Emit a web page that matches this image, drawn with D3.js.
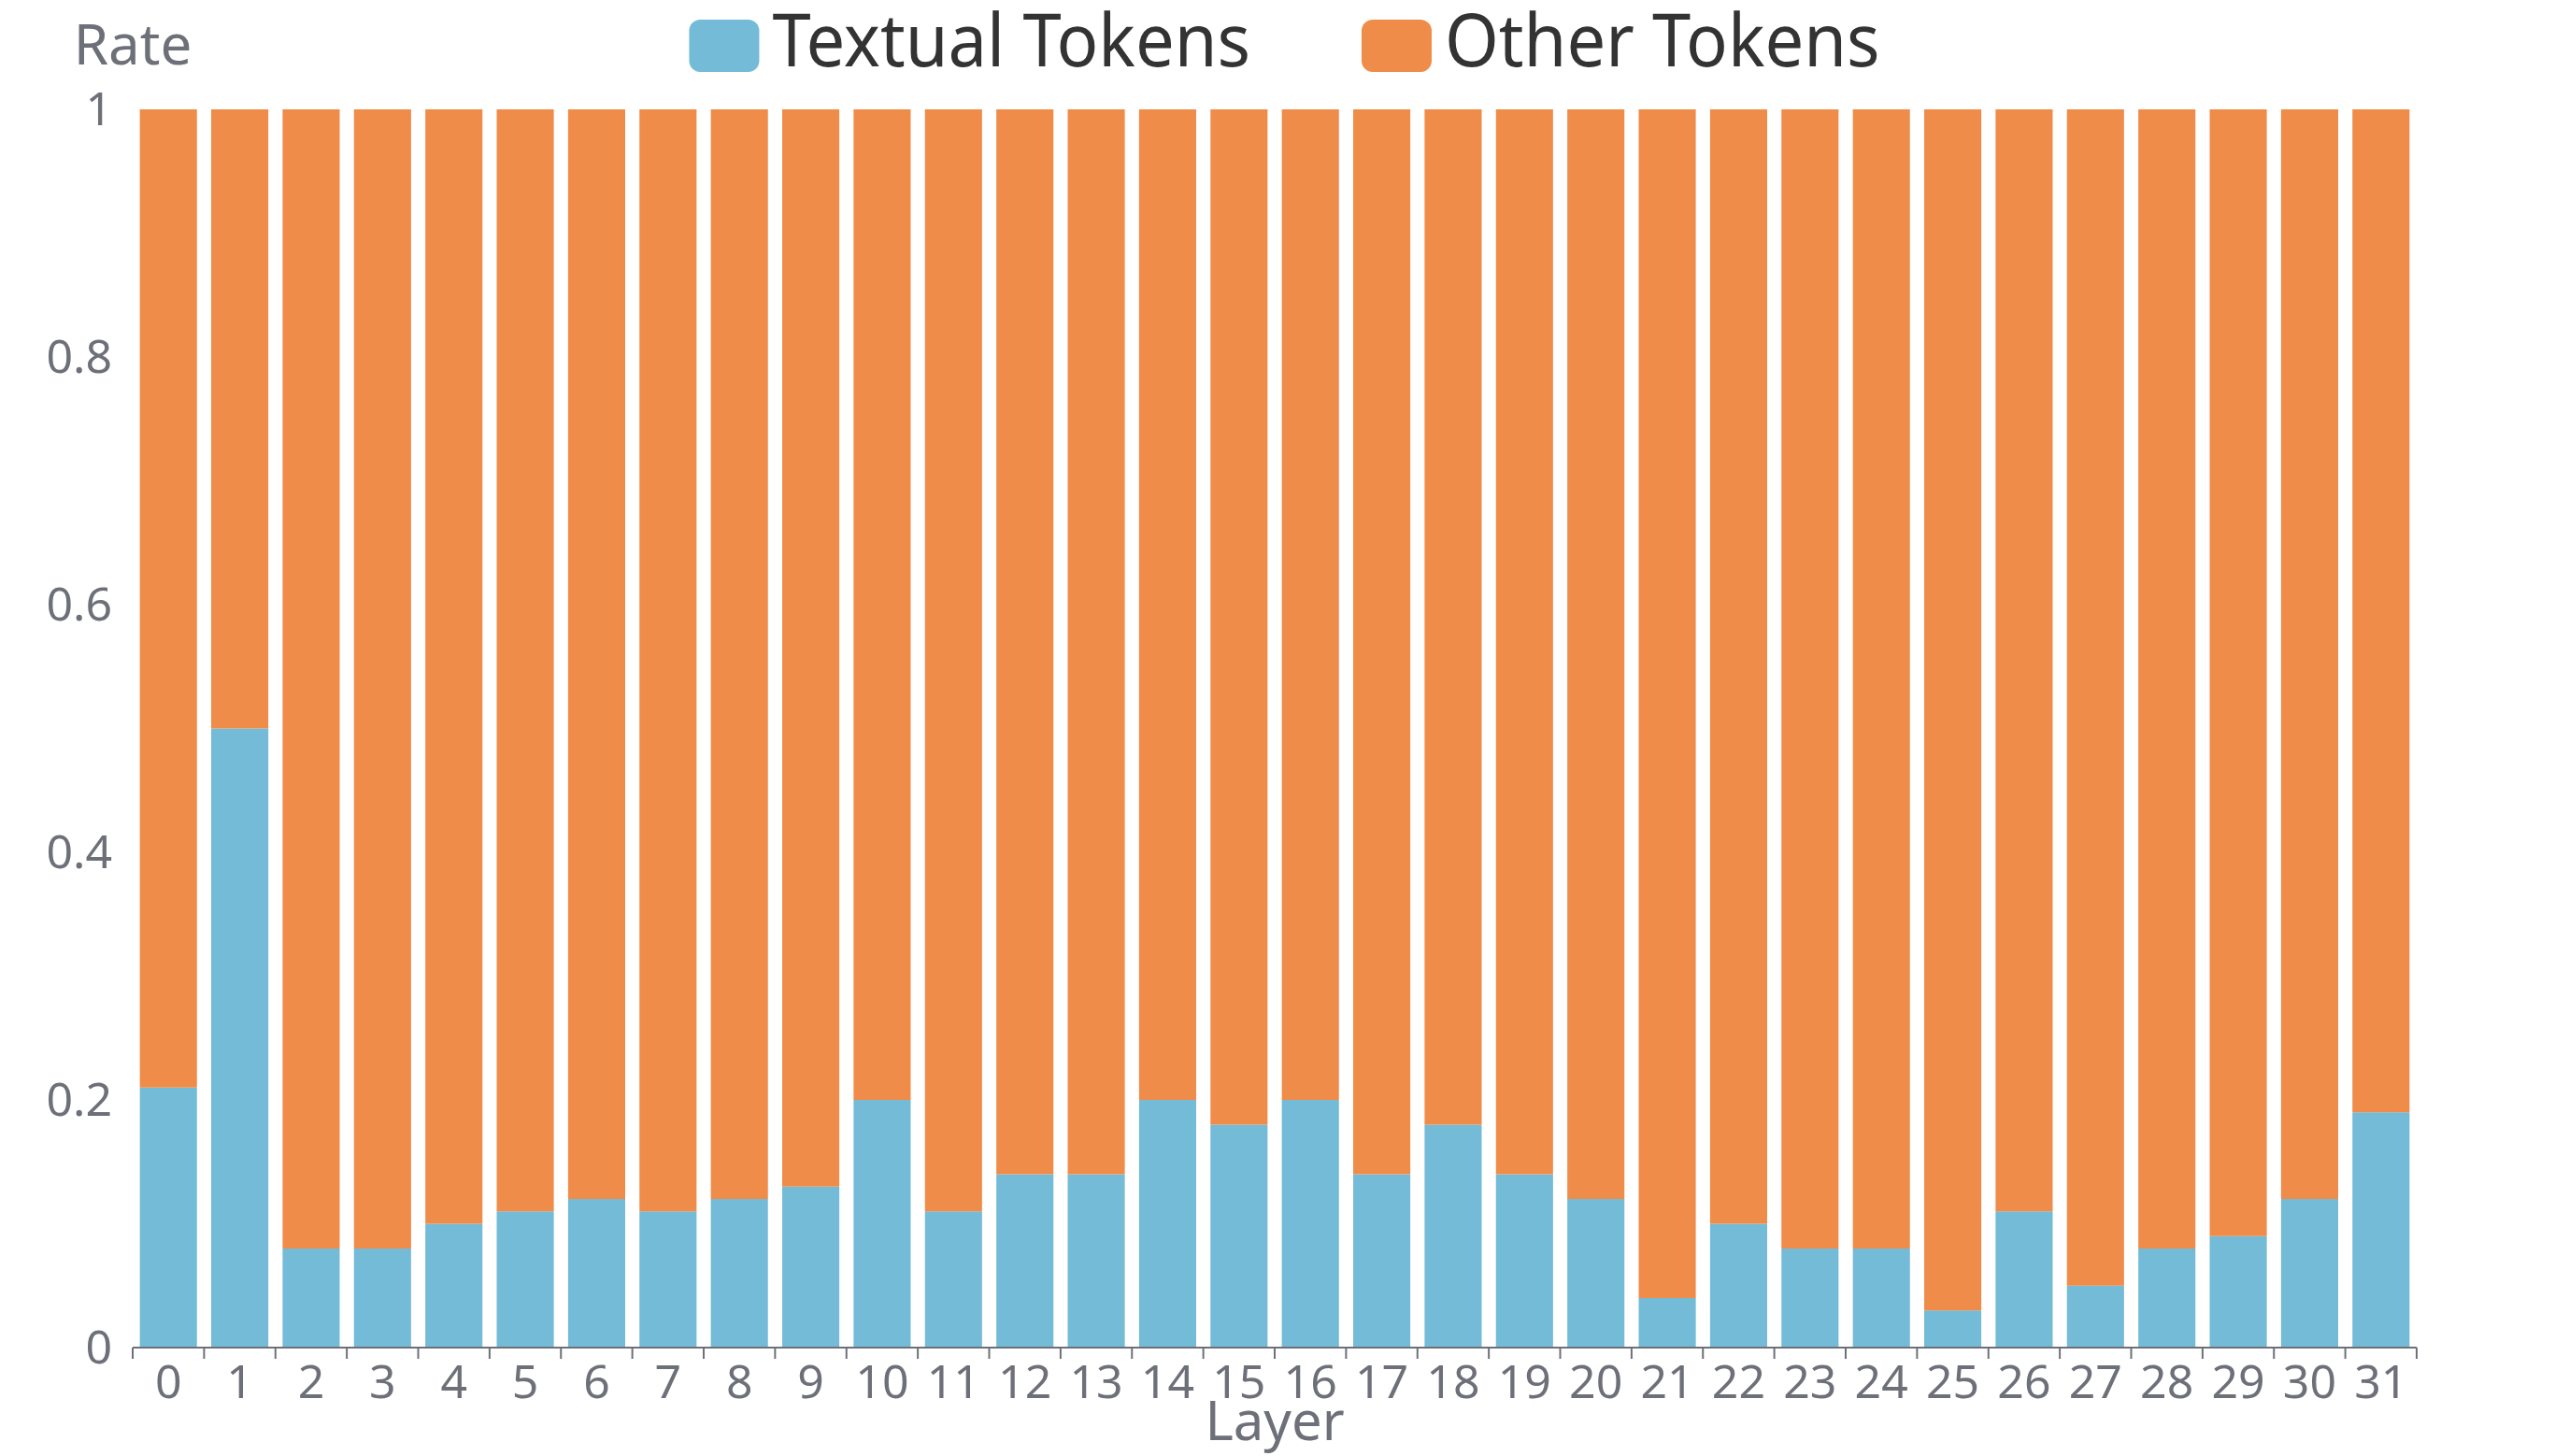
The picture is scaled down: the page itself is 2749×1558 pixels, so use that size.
<!DOCTYPE html>
<html lang="en">
    <head>
        <meta charset="UTF-8">
        <script src="https://unpkg.com/d3@7/dist/d3.min.js"></script>
        <title>Textual vs Other Tokens</title>
        <style>
            body { margin: 0; background: #fff; }
            text { font-family: "Noto Sans", "Open Sans", sans-serif; }
        </style>
    </head>
    <body>
        <script type="text/javascript">
            // Data
            var layers = d3.range(0, 32).map(String);
            var textualTokens = [0.21, 0.50, 0.08, 0.08, 0.10, 0.11, 0.12, 0.11, 0.12, 0.13,
                                 0.20, 0.11, 0.14, 0.14, 0.20, 0.18, 0.20, 0.14, 0.18, 0.14,
                                 0.12, 0.04, 0.10, 0.08, 0.08, 0.03, 0.11, 0.05, 0.08, 0.09,
                                 0.12, 0.19];
            var otherTokens = [0.79, 0.50, 0.92, 0.92, 0.90, 0.89, 0.88, 0.89, 0.88, 0.87,
                               0.80, 0.89, 0.86, 0.86, 0.80, 0.82, 0.80, 0.86, 0.82, 0.86,
                               0.88, 0.96, 0.90, 0.92, 0.92, 0.97, 0.89, 0.95, 0.92, 0.91,
                               0.88, 0.81];
            var seriesNames = ["Textual Tokens", "Other Tokens"];
            var seriesColors = ["#73bbd6", "#f08c49"];
            var yTicks = [0, 0.2, 0.4, 0.6, 0.8, 1];

            var W = 2749, H = 1558;
            var margin = { top: 117, right: 163, bottom: 116, left: 142 };
            var width = W - margin.left - margin.right;
            var height = H - margin.top - margin.bottom;
            var axisColor = "#6e7079";

            var svg = d3.select("body")
                .append("svg")
                .attr("width", W)
                .attr("height", H);

            var g = svg.append("g")
                .attr("transform", "translate(" + margin.left + "," + margin.top + ")");

            // Scales
            var xScale = d3.scaleBand()
                .domain(layers)
                .range([0, width]);

            var yScale = d3.scaleLinear()
                .domain([0, 1])
                .range([height, 0]);

            // Stack the two series
            var rows = layers.map(function(l, i) {
                return { layer: l, textual: textualTokens[i], other: otherTokens[i] };
            });
            var stacked = d3.stack().keys(["textual", "other"])(rows);

            var bw = xScale.bandwidth();
            g.selectAll("g.series")
                .data(stacked)
                .enter()
                .append("g")
                .attr("class", "series")
                .attr("fill", function(d, i) { return seriesColors[i]; })
                .selectAll("rect")
                .data(function(d) { return d; })
                .enter()
                .append("rect")
                .attr("x", function(d) { return xScale(d.data.layer) + bw * 0.1; })
                .attr("width", bw * 0.8)
                .attr("y", function(d) { return yScale(d[1]); })
                .attr("height", function(d) { return yScale(d[0]) - yScale(d[1]); });

            // X axis: line, ticks at band edges, labels in band centres
            var xAxisG = g.append("g")
                .attr("transform", "translate(0," + height + ")");

            xAxisG.append("line")
                .attr("x1", 0).attr("x2", width)
                .attr("stroke", axisColor).attr("stroke-width", 2);

            xAxisG.selectAll("line.tick")
                .data(layers.concat(["end"]))
                .enter()
                .append("line")
                .attr("class", "tick")
                .attr("x1", function(d, i) { return i < layers.length ? xScale(d) : width; })
                .attr("x2", function(d, i) { return i < layers.length ? xScale(d) : width; })
                .attr("y1", 0).attr("y2", 12)
                .attr("stroke", axisColor).attr("stroke-width", 2);

            xAxisG.selectAll("text.label")
                .data(layers)
                .enter()
                .append("text")
                .attr("class", "label")
                .attr("x", function(d) { return xScale(d) + bw / 2; })
                .attr("y", 54)
                .attr("text-anchor", "middle")
                .attr("fill", axisColor)
                .style("font-size", "50px")
                .text(function(d) { return d; });

            // Y axis labels only (no line, no grid)
            var yAxis = d3.axisLeft(yScale)
                .tickValues(yTicks)
                .tickSize(0)
                .tickPadding(22)
                .tickFormat(d3.format("~g"));

            var yAxisG = g.append("g").call(yAxis);
            yAxisG.select(".domain").remove();
            yAxisG.selectAll("text")
                .attr("fill", axisColor)
                .style("font-size", "50px")
                .style("font-family", "'Noto Sans', sans-serif");

            // Axis names
            g.append("text")
                .attr("x", 0)
                .attr("y", 69 - margin.top)
                .attr("text-anchor", "middle")
                .attr("fill", axisColor)
                .style("font-size", "60px")
                .text("Rate");

            g.append("text")
                .attr("x", width / 2)
                .attr("y", height + 99)
                .attr("text-anchor", "middle")
                .attr("fill", axisColor)
                .style("font-size", "58px")
                .text("Layer");

            // Legend, centred at the top
            var legend = svg.append("g");
            var items = legend.selectAll("g.item")
                .data(seriesNames)
                .enter()
                .append("g")
                .attr("class", "item");

            items.append("rect")
                .attr("width", 75).attr("height", 56)
                .attr("y", 21)
                .attr("rx", 12).attr("ry", 12)
                .attr("fill", function(d, i) { return seriesColors[i]; });

            items.append("text")
                .attr("x", 89)
                .attr("y", 71)
                .attr("fill", "#333")
                .style("font-size", "78px")
                .text(function(d) { return d; })
                .each(function() {
                    // reference font is a little narrower than Noto Sans
                    var len = this.getComputedTextLength();
                    d3.select(this)
                        .attr("textLength", len * 0.95)
                        .attr("lengthAdjust", "spacingAndGlyphs");
                });

            var offset = 0;
            items.each(function() {
                var node = d3.select(this);
                node.attr("transform", "translate(" + offset + ",0)");
                offset += 89 + (+node.select("text").attr("textLength")) + 119;
            });
            var total = offset - 119;
            legend.attr("transform", "translate(" + (W / 2 - total / 2) + ",0)");
        </script>
    </body>
</html>
